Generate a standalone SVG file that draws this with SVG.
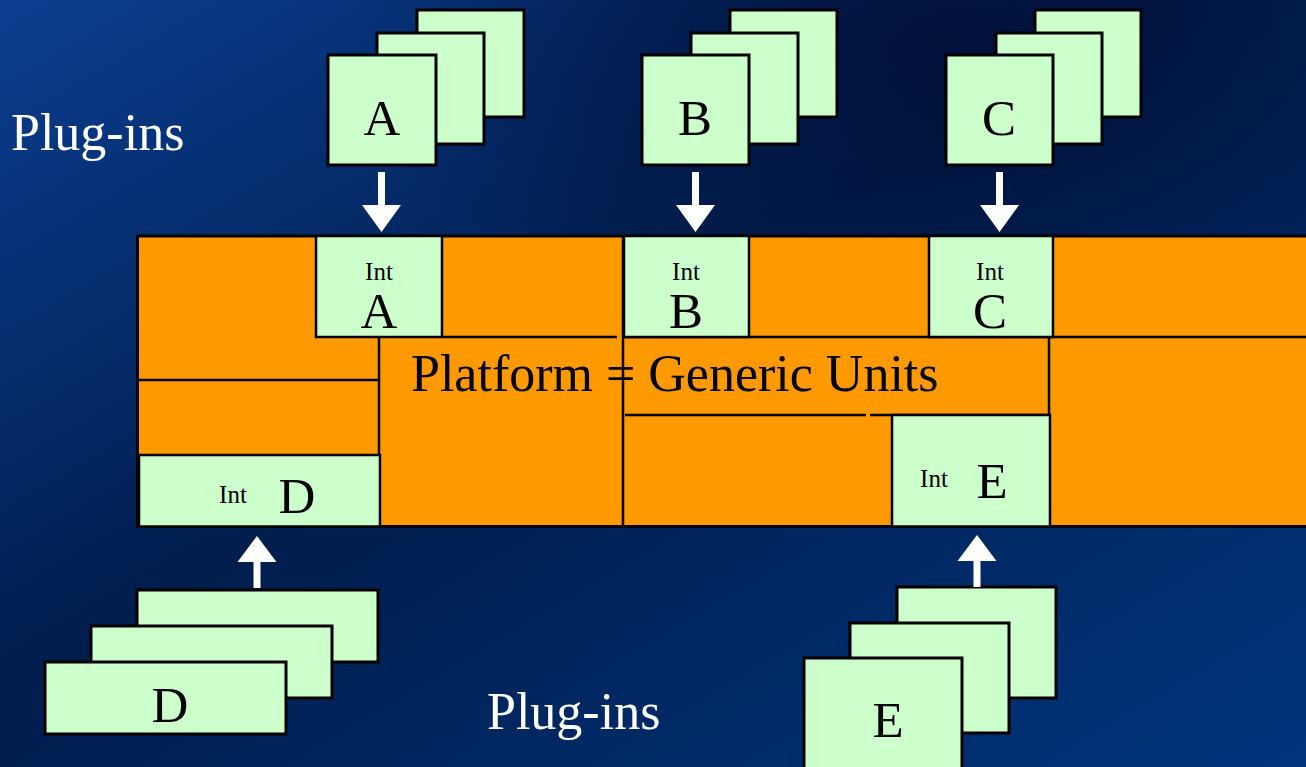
<svg xmlns="http://www.w3.org/2000/svg" width="1306" height="767" viewBox="0 0 1306 767">
  <defs>
    <linearGradient id="bg" x1="0" y1="0" x2="1" y2="1">
      <stop offset="0" stop-color="#0b3e90"/>
      <stop offset="0.45" stop-color="#001d4d"/>
      <stop offset="1" stop-color="#00357c"/>
    </linearGradient>
    <radialGradient id="dark" cx="0.72" cy="0.05" r="0.45">
      <stop offset="0" stop-color="#000a2e" stop-opacity="0.7"/>
      <stop offset="1" stop-color="#000a2e" stop-opacity="0"/>
    </radialGradient>
    <path id="arrowDown" d="M-3.5,0 h7 v33 h16 l-19.5,27 l-19.5,-27 h16 z"/>
    <path id="arrowUp" d="M-3.5,0 h7 v-26 h16 l-19.5,-26 l-19.5,26 h16 z"/>
  </defs>
  <style>
    .card { fill: #ccffcc; stroke: #000; stroke-width: 3; }
    .intbox { fill: #ccffcc; stroke: #000; stroke-width: 2.5; }
    .unit { fill: #ff9900; stroke: #000; stroke-width: 3; }
    .line { stroke: #000; stroke-width: 2.5; fill: none; }
    .big { font-family: "Liberation Serif", "Times New Roman", serif; font-size: 51px; fill: #000; text-anchor: middle; }
    .int { font-family: "Liberation Serif", "Times New Roman", serif; font-size: 25px; fill: #000; text-anchor: middle; }
    .title { font-family: "Liberation Serif", "Times New Roman", serif; font-size: 52px; fill: #000; }
    .plug { font-family: "Liberation Serif", "Times New Roman", serif; font-size: 52px; fill: #fff; }
    .arrow { fill: #fff; }
  </style>

  <rect x="0" y="0" width="1306" height="767" fill="url(#bg)"/>
  <rect x="0" y="0" width="1306" height="767" fill="url(#dark)"/>

  <text class="plug" x="11" y="150">Plug-ins</text>
  <text class="plug" x="487" y="729">Plug-ins</text>

  <!-- Platform -->
  <g id="platform">
    <rect class="unit" x="137.5" y="236" width="1180" height="290.5"/>
    <line class="line" x1="442" y1="337" x2="617" y2="337"/>
    <line class="line" x1="623" y1="337" x2="1306" y2="337"/>
    <line class="line" x1="137" y1="380" x2="379" y2="380"/>
    <line class="line" x1="379" y1="337" x2="379" y2="527"/>
    <line class="line" x1="623" y1="236" x2="623" y2="527"/>
    <line class="line" x1="625" y1="415" x2="866" y2="415"/>
    <line class="line" x1="870" y1="415" x2="1049" y2="415"/>
    <line class="line" x1="1049" y1="337" x2="1049" y2="527"/>
    <text class="title" x="411" y="391">Platform = Generic Units</text>
  </g>

  <g id="int-a">
    <rect class="intbox" x="316" y="236" width="126" height="101"/>
    <text class="int" x="379" y="280">Int</text>
    <text class="big" x="379" y="328">A</text>
  </g>
  <g id="int-b">
    <rect class="intbox" x="624" y="236" width="125" height="101"/>
    <text class="int" x="686" y="280">Int</text>
    <text class="big" x="686" y="328">B</text>
  </g>
  <g id="int-c">
    <rect class="intbox" x="929" y="236" width="124" height="101"/>
    <text class="int" x="990" y="280">Int</text>
    <text class="big" x="990" y="328">C</text>
  </g>
  <g id="int-d">
    <rect class="intbox" x="139" y="455" width="241" height="71.5"/>
    <text class="int" x="233" y="503">Int</text>
    <text class="big" x="297" y="513">D</text>
  </g>
  <g id="int-e">
    <rect class="intbox" x="892" y="415" width="158" height="111.5"/>
    <text class="int" x="934" y="487">Int</text>
    <text class="big" x="992" y="498">E</text>
  </g>

  <!-- Plug-in stacks -->
  <g id="plugin-a">
    <rect class="card" x="417" y="10" width="107" height="107"/>
    <rect class="card" x="377" y="33" width="107" height="111"/>
    <rect class="card" x="328" y="55" width="108" height="110"/>
    <text class="big" x="382" y="135">A</text>
  </g>
  <g id="plugin-b">
    <rect class="card" x="730" y="10" width="107" height="107"/>
    <rect class="card" x="691" y="33" width="107" height="111"/>
    <rect class="card" x="642" y="55" width="107" height="110"/>
    <text class="big" x="695" y="135">B</text>
  </g>
  <g id="plugin-c">
    <rect class="card" x="1035" y="10" width="106" height="107"/>
    <rect class="card" x="996" y="33" width="106" height="111"/>
    <rect class="card" x="946" y="55" width="107" height="110"/>
    <text class="big" x="999" y="135">C</text>
  </g>
  <g id="plugin-d">
    <rect class="card" x="137" y="590" width="241" height="72"/>
    <rect class="card" x="91" y="626" width="241" height="72"/>
    <rect class="card" x="45" y="662" width="241" height="72"/>
    <text class="big" x="170" y="722">D</text>
  </g>
  <g id="plugin-e">
    <rect class="card" x="897" y="587" width="159" height="111"/>
    <rect class="card" x="850" y="623" width="159" height="110"/>
    <rect class="card" x="804" y="658" width="158" height="115"/>
    <text class="big" x="888" y="737">E</text>
  </g>

  <!-- Connectors -->
  <g id="connectors" class="arrow">
    <use href="#arrowDown" x="381.5" y="172"/>
    <use href="#arrowDown" x="695.5" y="172"/>
    <use href="#arrowDown" x="999.5" y="172"/>
    <use href="#arrowUp" x="257" y="588"/>
    <use href="#arrowUp" x="977" y="587"/>
  </g>
</svg>
